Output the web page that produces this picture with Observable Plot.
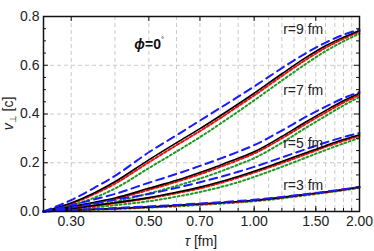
<!DOCTYPE html>
<html><head><meta charset="utf-8">
<script src="https://cdn.jsdelivr.net/npm/d3@7"></script>
<script src="https://cdn.jsdelivr.net/npm/@observablehq/plot@0.6"></script>
<style>body{margin:0;background:#fff} svg{font-family:"Liberation Sans",Arial,sans-serif}</style>
</head><body><div id="chart"></div>
<script>
const tau = [0.25,0.3,0.35,0.4,0.5,0.6,0.7,0.8,0.9,1.0,1.2,1.4,1.6,1.8,2.0];

const black9 = [0,0.035,0.077,0.122,0.212,0.282,0.34,0.393,0.441,0.485,0.565,0.63,0.68,0.715,0.743];
const blue9  = [0,0.047,0.098,0.146,0.243,0.313,0.373,0.425,0.471,0.513,0.588,0.648,0.693,0.725,0.746];
const red9   = [0,0.032,0.072,0.114,0.202,0.272,0.33,0.383,0.432,0.476,0.556,0.621,0.672,0.709,0.738];
const green9 = [0,0.025,0.057,0.094,0.178,0.246,0.305,0.36,0.41,0.456,0.537,0.604,0.658,0.698,0.73];

const black7 = [0,0.02,0.038,0.055,0.095,0.128,0.16,0.19,0.218,0.245,0.308,0.366,0.414,0.454,0.485];
const blue7  = [0,0.026,0.05,0.072,0.118,0.154,0.187,0.217,0.245,0.272,0.332,0.387,0.43,0.465,0.49];
const red7   = [0,0.018,0.035,0.051,0.089,0.122,0.153,0.183,0.211,0.238,0.3,0.358,0.406,0.447,0.478];
const green7 = [0,0.013,0.026,0.04,0.074,0.105,0.135,0.164,0.192,0.219,0.282,0.342,0.392,0.435,0.47];

const black5 = [0,0.012,0.025,0.036,0.057,0.079,0.1,0.122,0.144,0.165,0.205,0.24,0.27,0.295,0.315];
const blue5  = [0,0.016,0.033,0.048,0.072,0.097,0.12,0.142,0.163,0.183,0.222,0.255,0.283,0.305,0.322];
const red5   = [0,0.011,0.023,0.034,0.054,0.075,0.095,0.117,0.139,0.16,0.199,0.234,0.265,0.29,0.31];
const green5 = [0,0.008,0.017,0.026,0.042,0.061,0.08,0.1,0.12,0.142,0.183,0.22,0.252,0.279,0.302];

const black3 = [0,0.005,0.009,0.012,0.019,0.025,0.031,0.036,0.041,0.046,0.058,0.07,0.08,0.09,0.1];
const blue3  = [0,0.006,0.01,0.014,0.021,0.027,0.033,0.038,0.043,0.048,0.06,0.071,0.081,0.091,0.101];
const red3   = [0,0.005,0.009,0.012,0.018,0.024,0.03,0.035,0.04,0.045,0.057,0.069,0.079,0.089,0.099];
const green3 = [0,0.004,0.007,0.01,0.016,0.021,0.027,0.032,0.037,0.042,0.054,0.066,0.077,0.087,0.097];

const xTickLabels = [0.3,0.5,0.7,1.0,1.5,2.0];
const xMajor = [0.3,0.5,0.7,1.0,1.5];
const xMinor = [0.3,0.4,0.5,0.6,0.7,0.8,0.9,1.0,1.1,1.2,1.3,1.4,1.5,1.6,1.7,1.8,1.9];
const xGrid = [0.3,0.4,0.5,0.6,0.7,0.8,0.9,1.0,1.1,1.2,1.3,1.4,1.5,1.6,1.7,1.8,1.9];
const yTickLabels = [0,0.2,0.4,0.6,0.8];
const yGrid = [0.2,0.4,0.6];
const yMinor = [0.05,0.1,0.15,0.25,0.3,0.35,0.45,0.5,0.55,0.65,0.7,0.75];
const rLabels = ["r=9 fm","r=7 fm","r=5 fm","r=3 fm"];
const rLabelY = [0.73,0.478,0.261,0.09];
const rLabelX = 1.21;

const series = {
  black: [black9, black7, black5, black3],
  red: [red9, red7, red5, red3],
  green: [green9, green7, green5, green3],
  blue: [blue9, blue7, blue5, blue3]
};
const radii = [9,7,5,3];
function rows(model) {
  return series[model].flatMap((arr, k) => tau.map((t, i) => ({tau: t, v: arr[i], r: radii[k]})));
}

const W = 374, H = 251, mL = 43, mR = 15, mT = 16, mB = 40;
const innerH = H - mT - mB;
const innerW = W - mL - mR;

const plot = Plot.plot({
  width: W, height: H,
  marginLeft: mL, marginRight: mR, marginTop: mT, marginBottom: mB,
  style: {fontFamily: "Liberation Sans, Arial, sans-serif", fontSize: "14px", color: "#222", background: "#fff"},
  x: {type: "log", domain: [0.25, 2.0], axis: null},
  y: {domain: [0, 0.8], axis: null},
  marks: [
    Plot.ruleX(xGrid, {x: d => d, stroke: "#c4c4c4", strokeWidth: 0.9, strokeDasharray: "4,3"}),
    Plot.ruleY(yGrid, {y: d => d, stroke: "#c4c4c4", strokeWidth: 0.9, strokeDasharray: "4,3"}),
    Plot.line(rows("green"), {x: "tau", y: "v", z: "r", stroke: "#1e9a1e", strokeWidth: 2, strokeDasharray: "2,2.5", curve: "monotone-x"}),
    Plot.line(rows("red"), {x: "tau", y: "v", z: "r", stroke: "#f01010", strokeWidth: 2, strokeDasharray: "3,2", curve: "monotone-x"}),
    Plot.line(rows("black"), {x: "tau", y: "v", z: "r", stroke: "#000", strokeWidth: 1.6, curve: "monotone-x"}),
    Plot.line(rows("blue"), {x: "tau", y: "v", z: "r", stroke: "#1a1aff", strokeWidth: 2, strokeDasharray: "8,5", curve: "monotone-x"}),
    Plot.tickX(xMinor, {x: d => d, stroke: "#111", insetTop: innerH - 3}),
    Plot.tickX(xMajor, {x: d => d, stroke: "#111", insetTop: innerH - 5}),
    Plot.tickX(xMajor, {x: d => d, stroke: "#111", insetBottom: innerH - 5}),
    Plot.tickY(yMinor, {y: d => d, stroke: "#111", insetRight: innerW - 3}),
    Plot.tickY(yGrid, {y: d => d, stroke: "#111", insetRight: innerW - 5}),
    Plot.tickY(yMinor, {y: d => d, stroke: "#111", insetLeft: innerW - 3}),
    Plot.tickY(yGrid, {y: d => d, stroke: "#111", insetLeft: innerW - 5}),
    Plot.frame({stroke: "#111", strokeWidth: 1.5}),
    Plot.text(xTickLabels, {x: d => d, frameAnchor: "bottom", lineAnchor: "top", dy: 5, text: d3.format(".2f"), fontSize: 14, fill: "#222"}),
    Plot.text(yTickLabels, {y: d => d, frameAnchor: "left", textAnchor: "end", dx: -4, text: d3.format(".1f"), fontSize: 14, fill: "#222"}),
    Plot.text(rLabels, {x: () => rLabelX, y: (d, i) => rLabelY[i], text: d => d, textAnchor: "start", lineAnchor: "bottom", fontSize: 14, fill: "#222"})
  ]
});

const svg = d3.select(plot);
const yl = svg.append("text").attr("transform", `translate(13,${mT + innerH / 2}) rotate(-90)`)
  .attr("text-anchor", "middle").attr("font-size", 14).attr("fill", "#222");
yl.append("tspan").attr("font-style", "italic").text("v");
yl.append("tspan").attr("font-size", 9).attr("dy", 3).text("⊥");
yl.append("tspan").attr("dy", -3).text(" [c]");
const xl = svg.append("text").attr("x", mL + innerW / 2).attr("y", 246)
  .attr("text-anchor", "middle").attr("font-size", 14).attr("fill", "#222");
xl.append("tspan").attr("font-style", "italic").text("τ");
xl.append("tspan").text(" [fm]");
const sx = plot.scale("x"), sy = plot.scale("y");
const pl = svg.append("text").attr("x", sx.apply(0.503)).attr("y", sy.apply(0.665))
  .attr("font-size", 14).attr("font-weight", "bold").attr("fill", "#111");
pl.append("tspan").attr("font-style", "italic").text("ϕ");
pl.append("tspan").text("=0");
pl.append("tspan").attr("font-size", 8).attr("font-weight", "normal").attr("dy", -7).text("°");

document.getElementById("chart").appendChild(plot);
</script>
</body></html>
